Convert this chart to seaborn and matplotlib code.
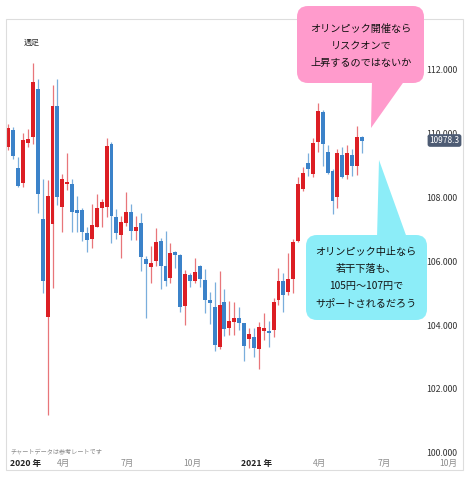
import numpy as np
import pandas as pd
import matplotlib
matplotlib.use("Agg")
import matplotlib.pyplot as plt
import matplotlib.dates as mdates
from matplotlib.patches import FancyBboxPatch, Polygon, Rectangle
from matplotlib.transforms import Affine2D
import seaborn as sns

# ---- data (USD/JPY weekly candles) ----
start_week = "2020-01-13"
opens = [109.57,110.12,108.92,108.45,109.72,109.89,111.39,107.33,104.24,107.17,
         110.87,107.71,108.42,108.41,107.61,107.61,106.90,106.70,107.09,107.68,
         107.69,109.67,107.38,106.82,107.19,107.55,106.96,107.19,106.08,105.81,
         106.01,106.65,105.85,105.47,106.29,106.20,104.60,105.57,105.38,105.85,
         105.41,104.79,104.58,103.32,104.71,103.90,104.11,104.21,104.06,103.55,
         103.64,103.24,103.82,103.82,103.85,104.79,105.39,105.05,105.44,106.65,
         108.26,109.07,108.74,109.75,110.69,109.44,108.84,108.02,109.33,108.71,
         109.33,108.99,109.89]
highs = [110.30,110.22,109.28,110.03,110.14,112.23,111.71,108.57,108.55,111.53,
         111.71,108.74,109.39,108.57,108.06,107.66,107.07,107.79,108.10,107.95,
         109.86,109.73,107.63,107.42,108.18,107.79,107.42,107.52,106.17,106.48,
         107.03,106.74,106.95,106.56,106.33,106.23,105.73,105.62,106.11,105.88,
         105.75,105.05,105.36,105.70,105.12,104.76,104.73,104.58,104.08,103.90,
         103.90,104.09,104.39,104.13,104.85,105.80,105.64,106.25,106.69,108.63,
         108.95,109.39,109.86,110.95,110.74,109.65,108.88,109.51,109.59,109.65,
         109.51,110.24,109.93]
lows = [109.49,109.20,108.34,108.32,109.59,109.68,107.52,105.00,101.18,105.15,
        107.76,106.93,108.24,106.93,106.93,106.65,106.30,106.43,107.07,107.09,
        107.40,106.58,106.69,106.09,107.11,106.67,106.67,105.71,104.21,105.33,
        105.85,105.12,105.23,105.33,105.78,104.42,104.00,105.20,105.31,105.18,
        104.37,104.03,103.20,103.25,103.66,103.69,103.69,103.85,102.88,103.27,
        102.99,102.61,103.53,103.32,103.62,104.63,104.42,104.94,105.00,106.61,
        108.21,108.67,108.63,109.44,108.99,108.74,107.48,107.66,108.60,108.57,
        108.67,108.71,109.39]
closes = [110.17,109.30,108.36,109.80,109.82,111.63,108.11,105.39,108.05,110.87,
          108.01,108.57,108.50,107.54,107.50,106.93,106.67,107.14,107.66,107.85,
          109.62,107.42,106.90,107.24,107.54,106.95,107.07,106.14,105.92,105.95,
          106.61,105.85,105.39,106.27,106.20,104.58,105.60,105.39,105.65,105.44,
          104.79,104.68,103.38,104.62,103.87,104.13,104.21,104.06,103.35,103.72,
          103.29,103.95,103.90,103.76,104.73,105.39,104.94,105.44,106.61,108.42,
          108.76,108.88,109.70,110.72,109.68,108.78,107.89,109.39,108.63,109.39,
          108.99,109.91,109.78]

xtick_dates = ["2020-04-01", "2020-07-01", "2020-10-01", "2021-01-01",
               "2021-04-01", "2021-07-01", "2021-10-01"]
xtick_labels = ["4月", "7月", "10月", "2021 年", "4月", "7月", "10月"]
first_year_label = "2020 年"
ytick_values = [100, 102, 104, 106, 108, 110, 112]
current_price_label = "10978.3"
chart_title = "週足"
footnote = "チャートデータは参考レートです"
pink_lines = ["オリンピック開催なら", "リスクオンで", "上昇するのではないか"]
cyan_lines = ["オリンピック中止なら", "若干下落も、", "105円～107円で", "サポートされるだろう"]

# ---- style ----
sns.set_theme(style="white")
plt.rcParams["font.family"] = ["Noto Sans CJK JP", "DejaVu Sans"]

W, H = 469, 478
fig = plt.figure(figsize=(W / 100, H / 100), dpi=100)
fig.patch.set_facecolor("white")
T = Affine2D().scale(1 / W, -1 / H).translate(0, 1) + fig.transFigure

AX_L, AX_R, AX_T, AX_B = 6, 463, 19, 456
ax = fig.add_axes([AX_L / W, 1 - AX_B / H, (AX_R - AX_L) / W, (AX_B - AX_T) / H])

df = pd.DataFrame({
    "date": pd.date_range(start_week, periods=len(opens), freq="7D"),
    "open": opens, "high": highs, "low": lows, "close": closes,
})
df["x"] = mdates.date2num(df["date"])
df["up"] = df["close"] >= df["open"]

RED, BLUE = "#dc1e24", "#3b82c9"
RED_W, BLUE_W = "#e8767a", "#7aaedc"

wick_cols = np.where(df["up"], RED_W, BLUE_W)
body_cols = np.where(df["up"], RED, BLUE)
ax.vlines(df["x"], df["low"], df["high"], colors=wick_cols, linewidth=0.9, zorder=2)
body_h = np.maximum((df["close"] - df["open"]).abs(), 0.05)
ax.bar(df["x"], body_h, bottom=np.minimum(df["open"], df["close"]),
       width=5.6, color=body_cols, linewidth=0, zorder=3)

base = mdates.date2num(pd.Timestamp("2020-01-01"))
ax.set_xlim(base + 8.72, base + 659.9)
ax.set_ylim(99.897, 113.596)

for s in ax.spines.values():
    s.set_visible(False)

ax.set_xticks(mdates.date2num(pd.to_datetime(xtick_dates)))
ax.set_xticklabels(xtick_labels)
ax.tick_params(axis="x", length=0, pad=2.2, labelsize=6.2)
for lbl in ax.get_xticklabels():
    if "年" in lbl.get_text():
        lbl.set_color("#222222")
        lbl.set_fontweight("bold")
    else:
        lbl.set_color("#8c8c8c")

ax.yaxis.tick_right()
ax.set_yticks(ytick_values)
ax.set_yticklabels([f"{v:.3f}" for v in ytick_values])
ax.tick_params(axis="y", length=0, pad=-26.6, labelsize=6.3, labelcolor="#333333")
ax.grid(False)

# ---- frame and texts ----
fig.patches.append(Rectangle((6, 19), 457, 451, transform=T, fill=False,
                             edgecolor="#dddddd", linewidth=0.8, zorder=1))
fig.text(24, 42, chart_title, transform=T, fontsize=5.8, color="#333333",
         ha="left", va="center", zorder=5)
fig.text(10, 452, footnote, transform=T, fontsize=4.4, color="#8a8a8a",
         ha="left", va="center", zorder=5)
fig.text(10, 463.5, first_year_label, transform=T, fontsize=6.2, color="#222222",
         fontweight="bold", ha="left", va="center", zorder=5)
fig.text(444.5, 140.5, current_price_label, transform=T, fontsize=6.0, color="white",
         ha="center", va="center", zorder=6,
         bbox=dict(boxstyle="round,pad=0.22,rounding_size=0.3", fc="#4d5b73", ec="none"))

# ---- callouts ----
PINK, CYAN = "#ff9bcc", "#8cedf8"
fig.patches.append(FancyBboxPatch((297, 6), 127, 77, transform=T,
                                  boxstyle="round,pad=0,rounding_size=11",
                                  fc=PINK, ec="none", zorder=3))
fig.patches.append(Polygon([(372, 80), (405, 80), (371, 128)], closed=True,
                           transform=T, fc=PINK, ec="none", zorder=3))
for txt, yy in zip(pink_lines, [29, 46, 63]):
    fig.text(361, yy, txt, transform=T, fontsize=7.3, color="#111111",
             ha="center", va="center", zorder=4)

fig.patches.append(FancyBboxPatch((306, 235), 121, 85, transform=T,
                                  boxstyle="round,pad=0,rounding_size=11",
                                  fc=CYAN, ec="none", zorder=3))
fig.patches.append(Polygon([(377, 238), (407, 238), (379, 160)], closed=True,
                           transform=T, fc=CYAN, ec="none", zorder=3))
for txt, yy in zip(cyan_lines, [252, 269, 286, 303]):
    fig.text(366, yy, txt, transform=T, fontsize=7.3, color="#111111",
             ha="center", va="center", zorder=4)

fig.savefig("out.png", dpi=100, facecolor="white")
